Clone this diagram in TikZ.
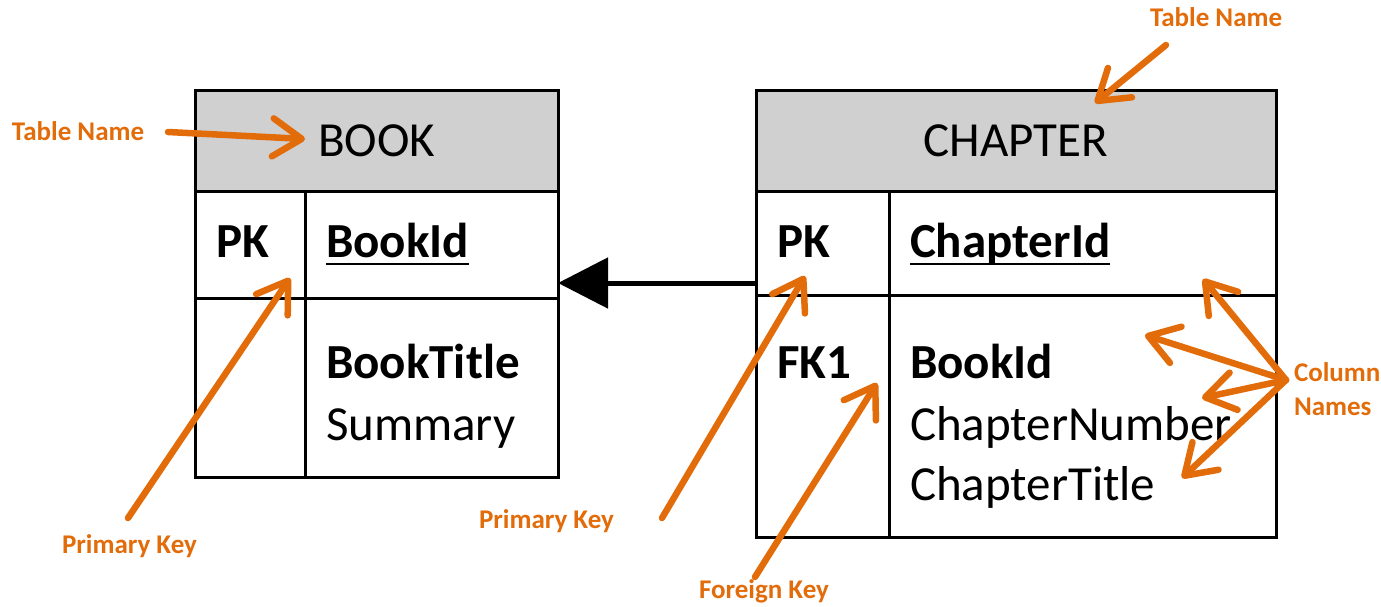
\documentclass[tikz,border=0pt]{standalone}
\usepackage{fontspec}
\setmainfont{Carlito}
\usetikzlibrary{arrows.meta}
\definecolor{anno}{HTML}{E36C0A}
\definecolor{hdr}{HTML}{D0D0D0}
\begin{document}
\begin{tikzpicture}[x=1pt,y=-1pt,
  box/.style={draw=black,line width=3pt,inner sep=0pt,outer sep=0pt,anchor=north west},
  head/.style={box,fill=hdr,font=\fontsize{49}{55}\selectfont},
  txt/.style={inner sep=0pt,outer sep=0pt,anchor=base west,font=\fontsize{49}{55}\selectfont},
  btxt/.style={txt,font=\fontsize{49}{55}\selectfont\bfseries},
  lbl/.style={inner sep=0pt,outer sep=0pt,anchor=base west,text=anno,font=\fontsize{27}{30}\selectfont\bfseries},
  ann/.style={draw=anno,line width=6.5pt,line cap=round,-{Straight Barb[length=29pt,width=38pt,round]}},
  rel/.style={draw=black,line width=5pt,-{Triangle[length=50pt,width=50pt]}},
  grid/.style={draw=black,line width=3pt},
  ul/.style={draw=black,line width=2.5pt}
]
\useasboundingbox (0,0) rectangle (1381,606);

% ---------- BOOK table ----------
\node[head,minimum width=363pt,minimum height=101pt] (bookhead) at (195,90) {BOOK};
\node[box,minimum width=363pt,minimum height=286pt] (bookbody) at (195,191) {};
\draw[grid] (bookbody.west |- 0,298) -- (bookbody.east |- 0,298);
\draw[grid] (305,191) -- (305,477);
\node[btxt] (bpk) at (216,257) {PK};
\node[btxt] (bid) at (326,257) {BookId};
\draw[ul] ([yshift=-7pt]bid.base west) -- ([yshift=-7pt]bid.base east);
\node[btxt] (btitle) at (326,378) {BookTitle};
\node[txt] (bsum) at (326,440) {Summary};

% ---------- CHAPTER table ----------
\node[head,minimum width=520pt,minimum height=101pt] (chaphead) at (756,90) {CHAPTER};
\node[box,minimum width=520pt,minimum height=346pt] (chapbody) at (756,191) {};
\draw[grid] (chapbody.west |- 0,295) -- (chapbody.east |- 0,295);
\draw[grid] (889,191) -- (889,537);
\node[btxt] (cpk) at (777,257) {PK};
\node[btxt] (cid) at (910,257) {ChapterId};
\draw[ul] ([yshift=-7pt]cid.base west) -- ([yshift=-7pt]cid.base east);
\node[btxt] (cfk) at (777,378) {FK1};
\node[btxt] (cbid) at (910,378) {BookId};
\node[txt] (cnum) at (910,440) {ChapterNumber};
\node[txt] (ctitle) at (910,500) {ChapterTitle};

% ---------- relationship ----------
\coordinate (relY) at (0,283);
\draw[rel] (chapbody.west |- relY) -- (bookbody.east |- relY);

% ---------- annotations ----------
\node[lbl] (tn1) at (12,140) {Table Name};
\node[lbl] (tn2) at (1150,26) {Table Name};
\node[lbl] (pk1) at (62,553) {Primary Key};
\node[lbl] (pk2) at (479,528) {Primary Key};
\node[lbl] (fk) at (699,598) {Foreign Key};
\node[lbl,align=left] (cn) at (1294,415) {Column\\[4pt]Names};

\coordinate (tn1s) at (168,132);
\coordinate (tn1t) at (305,139);
\coordinate (tn2s) at (1166,45);
\coordinate (tn2t) at (1095,103);
\coordinate (pk1s) at (128,518);
\coordinate (pk1t) at (290,278);
\coordinate (pk2s) at (662,518);
\coordinate (pk2t) at (805,276);
\coordinate (fks) at (755,577);
\coordinate (fkt) at (877,383);
\coordinate (cns) at (1286,380);
\coordinate (cn1) at (1203,279);
\coordinate (cn2) at (1145,335);
\coordinate (cn3) at (1202,398);
\coordinate (cn4) at (1182,478);

\draw[ann] (tn1s) -- (tn1t);
\draw[ann] (tn2s) -- (tn2t);
\draw[ann] (pk1s) -- (pk1t);
\draw[ann] (pk2s) -- (pk2t);
\draw[ann] (fks) -- (fkt);
\draw[ann] (cns) -- (cn1);
\draw[ann] (cns) -- (cn2);
\draw[ann] (cns) -- (cn3);
\draw[ann] (cns) -- (cn4);
\end{tikzpicture}
\end{document}
